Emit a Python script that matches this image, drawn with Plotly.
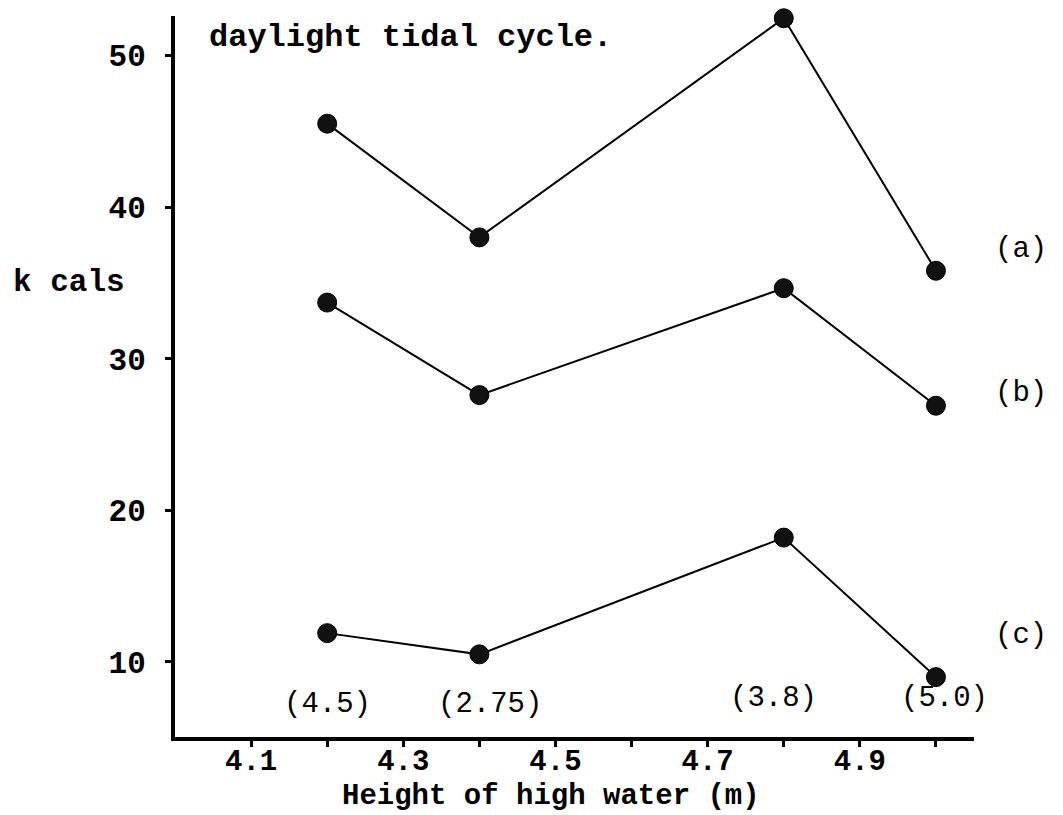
import plotly.graph_objects as go

# Data
height_m = [4.2, 4.4, 4.8, 5.0]
kcal_a = [45.5, 38.0, 52.45, 35.8]
kcal_b = [33.7, 27.6, 34.65, 26.9]
kcal_c = [11.9, 10.5, 18.2, 9.0]
tide_labels = ["(4.5)", "(2.75)", "(3.8)", "(5.0)"]
series_names = ["(a)", "(b)", "(c)"]
x_tick_vals = [4.1, 4.2, 4.3, 4.4, 4.5, 4.6, 4.7, 4.8, 4.9, 5.0]
x_tick_text = ["4.1", "", "4.3", "", "4.5", "", "4.7", "", "4.9", ""]
y_tick_vals = [10, 20, 30, 40, 50]

FONT = "Liberation Mono, Courier New, monospace"

fig = go.Figure()
for ys in (kcal_a, kcal_b, kcal_c):
    fig.add_trace(go.Scatter(
        x=height_m, y=ys, mode="lines+markers",
        line=dict(color="black", width=2),
        marker=dict(color="#111111", size=19, line=dict(color="black", width=1)),
        showlegend=False, cliponaxis=False,
    ))

# series labels at right (paper coords, outside plot area)
label_y_paper = [0.676, 0.477, 0.141]
for name, yy in zip(series_names, label_y_paper):
    fig.add_annotation(xref="paper", yref="paper", x=1.059, y=yy, text=name,
                       showarrow=False, xanchor="center", yanchor="middle",
                       font=dict(family=FONT, size=29, color="black"))

# tidal range labels under points
tide_shift = [0, 11, -10, 9]
tide_y = [7.2, 7.2, 7.6, 7.6]
for xv, txt, sh, yy in zip(height_m, tide_labels, tide_shift, tide_y):
    fig.add_annotation(x=xv, y=yy, text=txt, showarrow=False, xshift=sh,
                       xanchor="center", yanchor="middle",
                       font=dict(family=FONT, size=29, color="black"))

# y axis label
fig.add_annotation(xref="paper", yref="paper", x=-0.133, y=0.631, text="k cals",
                   showarrow=False, xanchor="center", yanchor="middle",
                   font=dict(family=FONT, size=31, color="black", weight="bold"))

# x axis title
fig.add_annotation(xref="paper", yref="paper", x=0.47, y=-0.082,
                   text="Height of high water (m)",
                   showarrow=False, xanchor="center", yanchor="middle",
                   font=dict(family=FONT, size=29, color="black", weight="bold"))

# caption fragment at top
fig.add_annotation(x=4.042, y=51.2, text="daylight tidal cycle.", showarrow=False,
                   xanchor="left", yanchor="middle",
                   font=dict(family=FONT, size=32, color="black", weight="bold"))

fig.update_layout(
    width=1055, height=807,
    margin=dict(l=167, r=89, t=8, b=78),
    paper_bgcolor="white", plot_bgcolor="white",
    font=dict(family=FONT, color="black"),
    xaxis=dict(
        range=[4.0, 5.05], showgrid=False, zeroline=False, automargin=False,
        showline=True, linecolor="black", linewidth=4,
        tickmode="array", tickvals=x_tick_vals, ticktext=x_tick_text,
        ticks="outside", ticklen=6, tickwidth=3, tickcolor="black",
        ticklabelstandoff=-12,
        tickfont=dict(family=FONT, size=29, color="black", weight="bold"),
    ),
    yaxis=dict(
        range=[5.05, 52.6], showgrid=False, zeroline=False, automargin=False,
        showline=True, linecolor="black", linewidth=4,
        tickmode="array", tickvals=y_tick_vals,
        ticks="outside", ticklen=6, tickwidth=3, tickcolor="black",
        ticklabelstandoff=13,
        tickfont=dict(family=FONT, size=31, color="black", weight="bold"),
    ),
)

fig.write_html("out.html")
